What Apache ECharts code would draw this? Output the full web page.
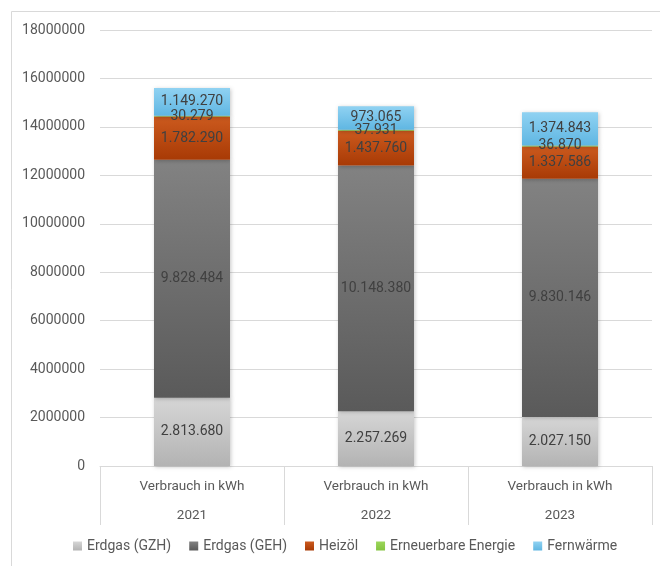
<!DOCTYPE html>
<html>
<head>
<meta charset="utf-8">
<script src="https://cdn.jsdelivr.net/npm/echarts@6/dist/echarts.min.js"></script>
<style>
  html, body { margin: 0; padding: 0; background: #fff; }
  #chart { width: 660px; height: 566px; }
</style>
</head>
<body>
<div id="chart"></div>
<script>
// Energy consumption per year, stacked by source
const years = ['2021', '2022', '2023'];
const categoryLabel = 'Verbrauch in kWh';
const erdgasGZH = [2813680, 2257269, 2027150];
const erdgasGEH = [9828484, 10148380, 9830146];
const heizoel = [1782290, 1437760, 1337586];
const erneuerbar = [30279, 37931, 36870];
const fernwaerme = [1149270, 973065, 1374843];
const yTicks = { min: 0, max: 18000000, step: 2000000 };

const FONT = 'Roboto, "Noto Sans", sans-serif';

function fmtDE(v) {
  return String(Math.round(v)).replace(/\B(?=(\d{3})+(?!\d))/g, '.');
}

function grad(top, bottom) {
  return new echarts.graphic.LinearGradient(0, 0, 0, 1, [
    { offset: 0, color: top },
    { offset: 1, color: bottom }
  ]);
}

function barSeries(name, data, top, bottom, legendColor) {
  return {
    name: name,
    type: 'bar',
    stack: 'total',
    data: data,
    barWidth: 76,
    color: legendColor,
    itemStyle: {
      color: grad(top, bottom),
      shadowColor: 'rgba(0,0,0,0.22)',
      shadowBlur: 4,
      shadowOffsetX: 1,
      shadowOffsetY: 1
    },
    label: {
      show: true,
      position: 'inside',
      formatter: p => fmtDE(p.value),
      color: '#404040',
      fontSize: 14,
      fontFamily: FONT
    },
    emphasis: { disabled: true }
  };
}

const chart = echarts.init(document.getElementById('chart'), null, { renderer: 'canvas' });
chart.setOption({
  animation: false,
  backgroundColor: '#ffffff',
  graphic: [{
    type: 'rect',
    shape: { x: 11.5, y: 11.5, width: 700, height: 600 },
    style: { fill: 'none', stroke: '#d9d9d9', lineWidth: 1 },
    z: -10
  }],
  grid: { left: 100, right: 8, top: 30, bottom: 100, containLabel: false },
  legend: {
    top: 539,
    left: 73,
    padding: 0,
    itemWidth: 9,
    itemHeight: 9,
    itemGap: 18,
    icon: 'rect',
    textStyle: { color: '#595959', fontSize: 14, fontFamily: FONT },
    data: ['Erdgas (GZH)', 'Erdgas (GEH)', 'Heizöl', 'Erneuerbare Energie', 'Fernwärme']
  },
  xAxis: {
    type: 'category',
    data: years,
    boundaryGap: true,
    axisLine: { show: true, lineStyle: { color: '#d9d9d9', width: 1 } },
    axisTick: { show: true, length: 59, interval: 0, lineStyle: { color: '#d9d9d9' } },
    axisLabel: {
      interval: 0,
      margin: 6,
      formatter: v => categoryLabel + '\n' + v,
      lineHeight: 29,
      color: '#595959',
      fontSize: 13.5,
      fontFamily: FONT
    }
  },
  yAxis: {
    type: 'value',
    min: yTicks.min,
    max: yTicks.max,
    interval: yTicks.step,
    axisLine: { show: false },
    axisTick: { show: false },
    axisLabel: { color: '#595959', fontSize: 14, fontFamily: FONT, margin: 15, formatter: v => String(v) },
    splitLine: { lineStyle: { color: '#d9d9d9', width: 1 } }
  },
  series: [
    barSeries('Erdgas (GZH)', erdgasGZH, '#d6d6d6', '#b3b3b3', '#c8c8c8'),
    barSeries('Erdgas (GEH)', erdgasGEH, '#828282', '#5a5a5a', '#6e6e6e'),
    barSeries('Heizöl', heizoel, '#cc5a1e', '#a83a05', '#c04a10'),
    barSeries('Erneuerbare Energie', erneuerbar, '#9bd65a', '#84c440', '#92d050'),
    barSeries('Fernwärme', fernwaerme, '#90d2f2', '#5fb6e2', '#7ccaf0')
  ]
});
</script>
</body>
</html>
